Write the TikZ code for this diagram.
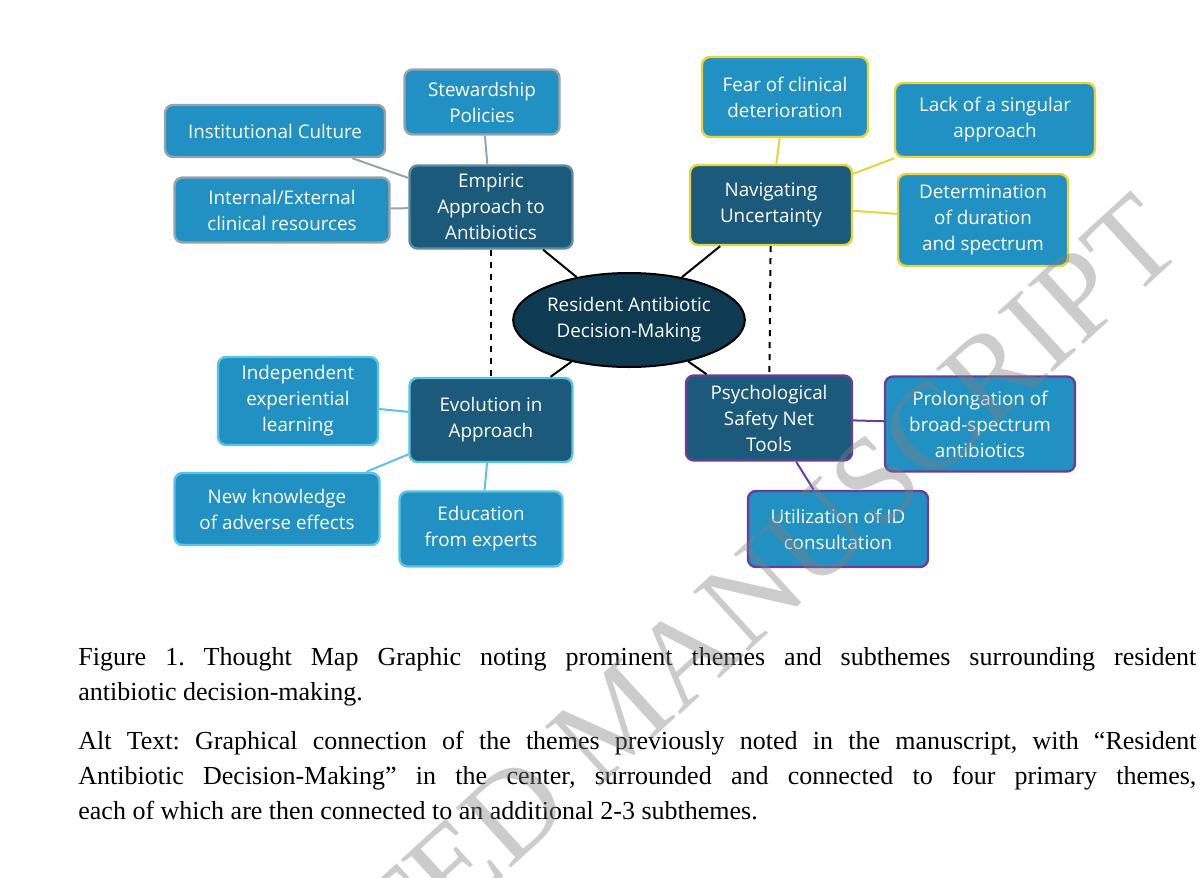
\documentclass[tikz,border=0pt]{standalone}
\usepackage{fontspec}
\setmainfont{Liberation Serif}
\newfontfamily\boxfont{Open Sans}
\usetikzlibrary{shapes.geometric}

\definecolor{mainblue}{HTML}{1B5A7A}
\definecolor{subblue}{HTML}{2190C2}
\definecolor{coreblue}{HTML}{0E3A52}
\definecolor{edgegray}{HTML}{9AA3AA}
\definecolor{edgeyellow}{HTML}{E8D43A}
\definecolor{edgecyan}{HTML}{5BC3E6}
\definecolor{edgepurple}{HTML}{6A3D9A}

\begin{document}
\frenchspacing
\begin{tikzpicture}
    [x=0.5pt, y=-0.5pt,
     theme/.style={rectangle, rounded corners=4pt, fill=mainblue, draw=#1, line width=1.2pt, text=white, font=\boxfont\fontsize{9.4}{13}\selectfont, align=center, inner sep=0pt},
     sub/.style={rectangle, rounded corners=4pt, fill=subblue, draw=#1, line width=1.2pt, text=white, font=\boxfont\fontsize{9.4}{13}\selectfont, align=center, inner sep=0pt},
     core/.style={ellipse, fill=coreblue, draw=black, line width=1pt, text=white, font=\boxfont\fontsize{9.4}{13}\selectfont, align=center, inner sep=0pt},
     link/.style={draw=#1, line width=1pt}]

    \useasboundingbox (0,0) rectangle (1200,878);

    \node [core, minimum width=107pt, minimum height=47pt] (core) at (629,320) {Resident Antibiotic\\Decision-Making};

    \node [theme=mainblue!70!white, minimum width=81.5pt, minimum height=41.5pt] (emp) at (491,207) {Empiric\\Approach to\\Antibiotics};
    \node [theme=edgeyellow, minimum width=81pt, minimum height=40pt] (nav) at (771,205) {Navigating\\Uncertainty};
    \node [theme=edgecyan, minimum width=81.5pt, minimum height=42pt] (evo) at (491,420) {Evolution in\\Approach};
    \node [theme=edgepurple, minimum width=83pt, minimum height=42.5pt] (psy) at (769,418) {Psychological\\Safety Net\\Tools};

    \node [sub=edgegray, minimum width=77.5pt, minimum height=32.5pt] (stew) at (482,102) {Stewardship\\Policies};
    \node [sub=edgegray, minimum width=110pt, minimum height=26pt] (inst) at (275,131) {Institutional Culture};
    \node [sub=edgegray, minimum width=107.5pt, minimum height=32.5pt] (res) at (282,210) {Internal/External\\clinical resources};

    \node [sub=edgeyellow, minimum width=83pt, minimum height=40pt] (fear) at (785,97) {Fear of clinical\\deterioration};
    \node [sub=edgeyellow, minimum width=100pt, minimum height=37pt] (lack) at (995,120) {Lack of a singular\\approach};
    \node [sub=edgeyellow, minimum width=85pt, minimum height=46pt] (dur) at (983,220) {Determination\\of duration\\and spectrum};

    \node [sub=edgecyan, minimum width=80pt, minimum height=44pt] (ind) at (298,401) {Independent\\experiential\\learning};
    \node [sub=edgecyan, minimum width=102.5pt, minimum height=36pt] (know) at (277,509) {New knowledge\\of adverse effects};
    \node [sub=edgecyan, minimum width=81.5pt, minimum height=37.5pt] (edu) at (481,529) {Education\\from experts};

    \node [sub=edgepurple, minimum width=95pt, minimum height=47.5pt] (prol) at (980,424) {Prolongation of\\broad-spectrum\\antibiotics};
    \node [sub=edgepurple, minimum width=90pt, minimum height=38pt] (util) at (838,529) {Utilization of ID\\consultation};

    % connectors
    \draw [link=black] (core) -- (emp);
    \draw [link=black] (core) -- (nav);
    \draw [link=black] (core) -- (evo);
    \draw [link=black] (core) -- (psy);
    \draw [link=black, dashed] (emp) -- (evo);
    \draw [link=black, dashed] (nav) -- (psy);
    \draw [link=edgegray] (emp) -- (stew);
    \draw [link=edgegray] (emp) -- (inst);
    \draw [link=edgegray] (emp) -- (res);
    \draw [link=edgeyellow] (nav) -- (fear);
    \draw [link=edgeyellow] (nav) -- (lack);
    \draw [link=edgeyellow] (nav) -- (dur);
    \draw [link=edgecyan] (evo) -- (ind);
    \draw [link=edgecyan] (evo) -- (know);
    \draw [link=edgecyan] (evo) -- (edu);
    \draw [link=edgepurple] (psy) -- (prol);
    \draw [link=edgepurple] (psy) -- (util);

    % caption
    \node [anchor=north west, text width=559pt, align=justify, inner sep=0pt, font=\fontsize{13}{17.5}\selectfont] (cap) at (78,647) {%
        Figure 1. Thought Map Graphic noting prominent themes and subthemes surrounding resident\linebreak
        antibiotic decision-making.\par\vspace{7pt}
        Alt Text: Graphical connection of the themes previously noted in the manuscript, with ``Resident\linebreak
        Antibiotic Decision-Making'' in the center, surrounded and connected to four primary themes,\linebreak
        each of which are then connected to an additional 2-3 subthemes.};

    % watermark
    \node [anchor=east, rotate=42.5, text=gray, opacity=0.4, font=\fontsize{62}{62}\selectfont] (mark) at (1165,215) {ACCEPTED MANUSCRIPT};
\end{tikzpicture}
\end{document}
